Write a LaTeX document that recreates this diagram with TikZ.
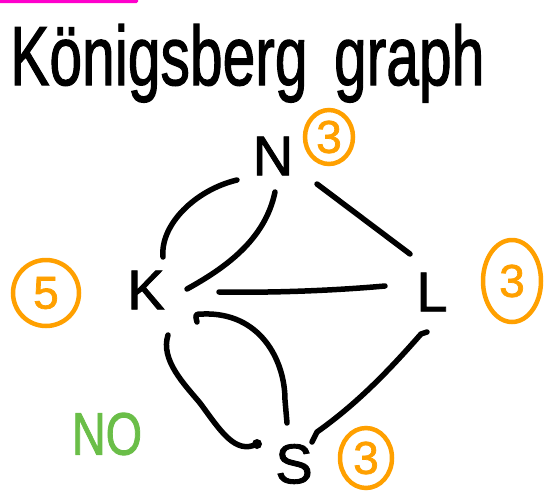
\documentclass[tikz,border=0pt]{standalone}
\usepackage{fontspec}
\setmainfont{Liberation Sans}[FakeBold=1.6]
\usetikzlibrary{shapes.geometric,calc}
\definecolor{hlpink}{RGB}{255,0,204}
\definecolor{penorange}{RGB}{255,160,0}
\definecolor{pengreen}{RGB}{106,190,72}
\tikzset{
  vertex/.style={inner sep=0pt, font=\fontsize{56}{56}\selectfont},
  degree/.style={ellipse, draw=penorange, text=penorange, line width=4.5pt, inner sep=0pt, font=\fontsize{46}{46}\selectfont},
  edge/.style={line width=5.5pt, line cap=round, line join=round}
}
\begin{document}
\begin{tikzpicture}[x=1pt,y=-1pt]
\useasboundingbox (0,0) rectangle (560,491);
% pink highlight bar at the top
\fill[hlpink, rounded corners=1.5pt] (-3,-3) rectangle (138,3);
% title
\node[anchor=base west, inner sep=0pt, font=\fontsize{84}{84}\selectfont] (title) at (10,85)
  {\scalebox{0.70}[1]{Königsberg\hspace{0.45em}graph}};
% vertices
\node[vertex] (N) at (273,156) {N};
\node[vertex] (K) at (146,290) {K};
\node[vertex] (L) at (432,292) {L};
\node[vertex] (S) at (294,464) {S};
% degrees
\node[degree, minimum width=48pt, minimum height=54pt] (dN) at (329,137) {3};
\node[degree, minimum width=58pt, minimum height=82pt] (dL) at (512,281) {3};
\node[degree, minimum width=52pt, minimum height=60pt] (dS) at (366,458) {3};
\node[degree, minimum width=66pt, minimum height=66pt] (dK) at (46,293) {5};
% verdict
\node[inner sep=0pt, text=pengreen, font=\fontsize{60}{60}\selectfont] (no) at (107,434) {\scalebox{0.78}[1]{NO}};
% edges
\draw[edge] ($(K)+(17,-33)$) .. controls +(-3,-32) and +(-42,10) .. ($(N)+(-36,24)$);
\draw[edge] ($(K)+(41,-1)$) .. controls +(38,-21) and +(-10,48) .. ($(N)+(2,36)$);
\draw[edge] ($(N)+(44,28)$) -- ($(L)+(-22,-38)$);
\draw[edge] ($(K)+(73,2)$) .. controls +(61,1) and +(-45,4) .. ($(L)+(-47,-6)$);
\draw[edge] ($(K)+(51,32)$) .. controls +(-2,-8) .. ++(6,-8)
  .. controls +(57,-2) and +(0,-40) .. ++(82,86) -- ($(S)+(-7,-41)$);
\draw[edge] ($(K)+(22,45)$) .. controls +(-8,25) and +(-15,-18) .. ++(32,68)
  .. controls +(20,27) and +(-22,11) .. ($(S)+(-37,-20)$);
\fill ($(S)+(-37,-20)$) circle (5pt);
\draw[edge] ($(L)+(-5,40)$) -- ++(-6,2) .. controls +(-36,41) and +(38,-27) .. ++(-104,98) -- ($(S)+(18,-22)$);
\end{tikzpicture}
\end{document}
